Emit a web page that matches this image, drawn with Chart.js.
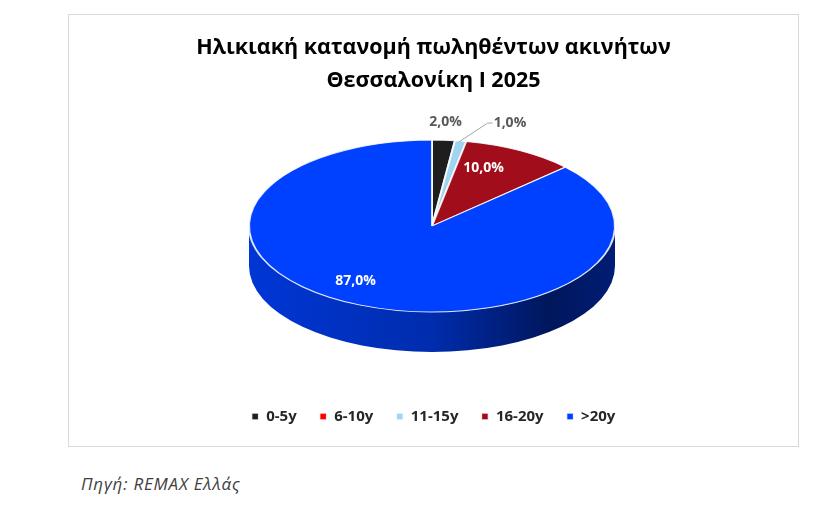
<!DOCTYPE html>
<html>
<head>
<meta charset="utf-8">
<script src="https://cdn.jsdelivr.net/npm/chart.js@4.4.1/dist/chart.umd.min.js"></script>
<style>
  body { margin: 0; background: #fff; width: 815px; height: 521px; position: relative; overflow: hidden; }
  #box { position: absolute; left: 68px; top: 14px; width: 731px; height: 433px; border: 1px solid #d9d9d9; box-sizing: border-box; }
  #src { position: absolute; left: 81px; top: 472px; font-family: "Open Sans", sans-serif; font-style: italic; font-size: 17px; letter-spacing: 0.8px; color: #404040; }
</style>
</head>
<body>
<div id="box"><canvas id="pieChart"></canvas></div>
<div id="src">Πηγή: REMAX Ελλάς</div>
<script>
// Δεδομένα
const categories = ['0-5y', '6-10y', '11-15y', '16-20y', '>20y'];
const shares = [2, 0, 1, 10, 87];
const colors = ['#1e1e1e', '#ff0000', '#9fd5f0', '#a20d1c', '#0040ff'];
const titleLines = ['Ηλικιακή κατανομή πωληθέντων ακινήτων', 'Θεσσαλονίκη I 2025'];
// θέση ετικέτας: έξω, με γραμμή, μέσα
const labelModes = ['outside', 'none', 'leader', 'inside', 'inside'];
const labelShift = [[0, 0], [0, 0], [0, 0], [-12, -4], [-24, -2]];

const FONT = '"Open Sans", sans-serif';
// γεωμετρία 3D πίτας (σε συντεταγμένες canvas)
const geo = { cx: 363, cy: 211, rx: 183, ry: 86, depth: 40 };

function shade(hex, f) {
  const n = parseInt(hex.slice(1), 16);
  const r = Math.round(((n >> 16) & 255) * f);
  const g = Math.round(((n >> 8) & 255) * f);
  const b = Math.round((n & 255) * f);
  return `rgb(${r},${g},${b})`;
}

function fmt(v) {
  return v.toFixed(1).replace('.', ',') + '%';
}

const pie3d = {
  id: 'pie3d',
  beforeDatasetsDraw(chart) {
    const ctx = chart.ctx;
    const arcs = chart.getDatasetMeta(0).data;
    const { cx, cy, rx, ry, depth } = geo;

    // πλευρικό τοίχωμα (μόνο το μπροστινό μισό)
    arcs.forEach((arc, i) => {
      const a0 = arc.startAngle, a1 = arc.endAngle;
      if (a1 - a0 <= 0) return;
      [-2 * Math.PI, 0, 2 * Math.PI].forEach(k => {
        const lo = Math.max(a0, k), hi = Math.min(a1, k + Math.PI);
        if (hi <= lo) return;
        const grad = ctx.createLinearGradient(cx - rx, 0, cx + rx, 0);
        grad.addColorStop(0, shade(colors[i], 0.84));
        grad.addColorStop(0.5, shade(colors[i], 0.68));
        grad.addColorStop(0.82, shade(colors[i], 0.36));
        grad.addColorStop(1, shade(colors[i], 0.46));
        ctx.beginPath();
        ctx.ellipse(cx, cy, rx, ry, 0, lo, hi);
        ctx.ellipse(cx, cy + depth, rx, ry, 0, hi, lo, true);
        ctx.closePath();
        ctx.fillStyle = grad;
        ctx.fill();
      });
    });

    // επάνω επιφάνεια: κλίμακα σε έλλειψη
    const a = arcs[0];
    ctx.save();
    ctx.translate(cx, cy);
    ctx.scale(rx / a.outerRadius, ry / a.outerRadius);
    ctx.translate(-a.x, -a.y);
  },
  afterDatasetsDraw(chart) {
    const ctx = chart.ctx;
    ctx.restore();
    const arcs = chart.getDatasetMeta(0).data;
    const { cx, cy, rx, ry } = geo;
    ctx.save();
    ctx.font = 'bold 14px ' + FONT;
    ctx.textBaseline = 'middle';
    arcs.forEach((arc, i) => {
      const v = shares[i];
      if (!v) return;
      const mid = (arc.startAngle + arc.endAngle) / 2;
      const c = Math.cos(mid), s = Math.sin(mid);
      const [dx, dy] = labelShift[i];
      if (labelModes[i] === 'inside') {
        ctx.fillStyle = '#ffffff';
        ctx.textAlign = 'center';
        ctx.fillText(fmt(v), cx + c * rx * 0.72 + dx, cy + s * ry * 0.72 + dy);
      } else {
        const px = cx + c * rx, py = cy + s * ry;
        ctx.fillStyle = '#595959';
        if (labelModes[i] === 'leader') {
          ctx.strokeStyle = '#a6a6a6';
          ctx.lineWidth = 1;
          ctx.beginPath();
          ctx.moveTo(px - 2, py + 1);
          ctx.lineTo(px + 27, py - 18);
          ctx.lineTo(px + 32, py - 18);
          ctx.stroke();
          ctx.textAlign = 'left';
          ctx.fillText(fmt(v), px + 33, py - 18);
        } else {
          ctx.textAlign = 'center';
          ctx.fillText(fmt(v), px + 2, py - 18);
        }
      }
    });
    ctx.restore();
  }
};

const ctx = document.getElementById('pieChart').getContext('2d');
new Chart(ctx, {
  type: 'pie',
  data: {
    labels: categories,
    datasets: [{
      data: shares,
      backgroundColor: colors,
      borderColor: 'rgba(255,255,255,0.85)',
      borderWidth: 1.5
    }]
  },
  options: {
    responsive: true,
    maintainAspectRatio: false,
    animation: false,
    layout: { padding: { top: 0, bottom: 12, left: 0, right: 0 } },
    plugins: {
      tooltip: { enabled: false },
      title: {
        display: true,
        text: titleLines,
        color: '#000000',
        font: { family: FONT, size: 21.5, weight: 'bold', lineHeight: 1.55 },
        padding: { top: 16, bottom: 10 }
      },
      legend: {
        position: 'bottom',
        labels: {
          boxWidth: 7,
          boxHeight: 7,
          padding: 23,
          color: '#262626',
          font: { family: FONT, size: 15, weight: 'bold' }
        }
      }
    }
  },
  plugins: [pie3d]
});
</script>
</body>
</html>
